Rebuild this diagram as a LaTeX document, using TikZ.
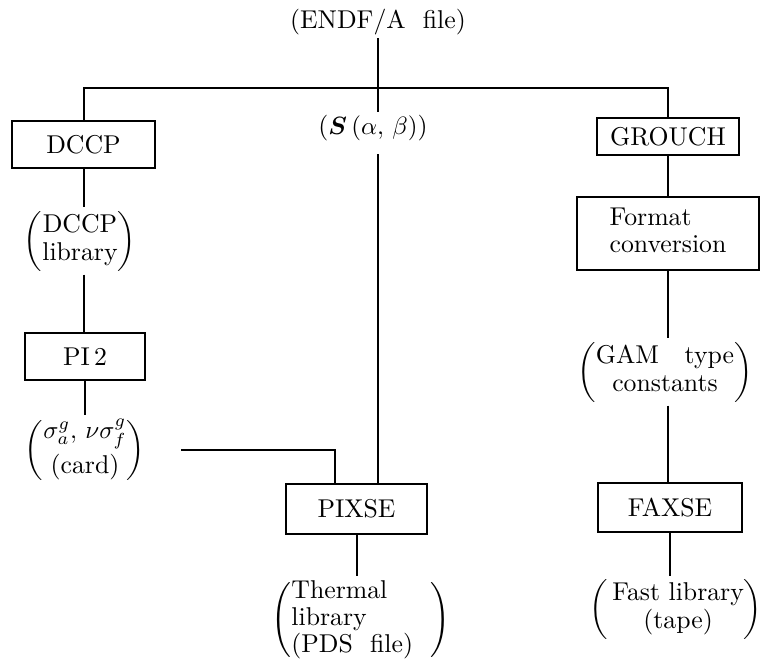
\documentclass[tikz,border=0pt]{standalone}
\usepackage{amsmath,bm}
\usepackage{tikz}
\usetikzlibrary{positioning,calc}

\begin{document}
\begin{tikzpicture}[x=0.4pt,y=-0.4pt,
  font=\fontsize{10.3}{10.9}\selectfont,
  every path/.style={line width=0.8pt},
  prog/.style={draw,line width=1.1pt,inner sep=0pt,align=center},
  lbl/.style={inner sep=1pt,align=center}]
 \useasboundingbox (0,0) rectangle (762,660);
 % source file and the three branches
 \node[lbl] (endf) at (378,22) {(ENDF/A~~file)};
 \coordinate (top) at (378,88);
 \node[lbl] (sab) at (373,128) {($\bm{S}\,(\alpha,\,\beta)$)};
 \node[prog,minimum width=57.2pt,minimum height=18.8pt] (dccp) at (83.5,144.5) {DCCP};
 \node[prog,minimum width=56.8pt,minimum height=14.8pt] (grouch) at (668,136.5) {GROUCH};
 % left column
 \node[lbl] (dccplib) at (80,241)
   {$\left(\begin{tabular}{@{}c@{}}DCCP\\library\end{tabular}\right)$};
 \node[prog,minimum width=48pt,minimum height=18.8pt] (pi2) at (85,356.5) {PI\,2};
 \node[lbl] (sigma) at (85,450)
   {$\left(\begin{array}{@{}c@{}}\sigma_{a}^{g},\,\nu\sigma_{f}^{g}\\[3pt] \text{(card)}\end{array}\right)$};
 % middle
 \node[prog,minimum width=56.4pt,minimum height=20pt] (pixse) at (356.5,509) {PIXSE};
 \node[lbl] (thermal) at (361,620)
   {$\left(\begin{tabular}{@{}l@{\hspace{7pt}}}Thermal\\library\\(PDS~~file)\end{tabular}\right)$};
 % right column
 \node[prog,minimum width=72.8pt,minimum height=29.2pt] (fmt) at (668,233.5)
   {\begin{tabular}{@{}l@{}}Format\\conversion\end{tabular}};
 \node[lbl] (gam) at (665,372)
   {$\left(\begin{tabular}{@{}c@{}}GAM~~~type\\constants\end{tabular}\right)$};
 \node[prog,minimum width=57.6pt,minimum height=19.6pt] (faxse) at (670,507.5) {FAXSE};
 \node[lbl] (fast) at (676,609)
   {$\left(\begin{tabular}{@{\,}c@{}}Fast~library\\(tape)\end{tabular}\right)$};

 \draw (top |- endf.south) -- (top |- sab.north);
 \draw (dccp) |- (top) -| (grouch);
 \draw ([yshift=-4pt]top |- sab.south) -- (top |- pixse.north);
 \draw (dccp) -- (dccp |- dccplib.north);
 \draw (dccp |- dccplib.south) -- (dccp |- pi2.north);
 \draw (pi2) -- (sigma);
 \draw ([xshift=13pt]sigma.east) -| ([xshift=-8.6pt]pixse.north);
 \draw (pixse) -- (pixse |- thermal.north);
 \draw (grouch) -- (grouch |- fmt.north);
 \draw (grouch |- fmt.south) -- (grouch |- gam.north);
 \draw (grouch |- gam.south) -- (grouch |- faxse.north);
 \draw (faxse) -- (faxse |- fast.north);
\end{tikzpicture}
\end{document}
